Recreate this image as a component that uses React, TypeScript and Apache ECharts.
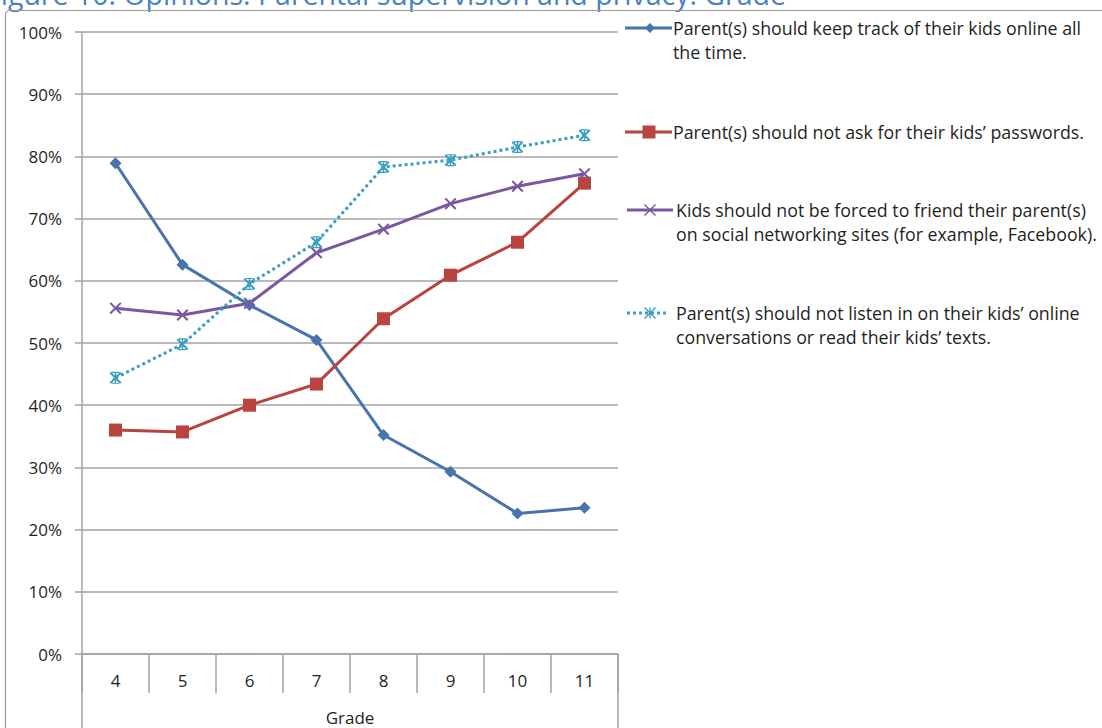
import React, { useEffect, useRef } from "react";
import * as echarts from "echarts";

const grades = ["4", "5", "6", "7", "8", "9", "10", "11"];
const keepTrack = [78.9, 62.6, 56.1, 50.5, 35.2, 29.3, 22.6, 23.5];
const noPasswords = [36.0, 35.7, 40.0, 43.4, 53.9, 60.9, 66.2, 75.7];
const noForcedFriend = [55.6, 54.5, 56.4, 64.5, 68.3, 72.4, 75.2, 77.2];
const noListening = [44.4, 49.8, 59.5, 66.2, 78.3, 79.4, 81.5, 83.4];
const yTicks = [0, 10, 20, 30, 40, 50, 60, 70, 80, 90, 100];

const seriesNames = [
  "Parent(s) should keep track of their kids online all\nthe time.",
  "Parent(s) should not ask for their kids\u2019 passwords.",
  "Kids should not be forced to friend their parent(s)\non social networking sites (for example, Facebook).",
  "Parent(s) should not listen in on their kids\u2019 online\nconversations or read their kids\u2019 texts.",
];

const BLUE = "#4674ad";
const RED = "#b8433f";
const PURPLE = "#7a58a1";
const CYAN = "#3a9fbf";
const GRID = "#a3a3a3";
const TEXT = "#1f1f1f";
const FONT = "'Open Sans', sans-serif";
const FS_AXIS = 17;
const FS_LEGEND = 17.8;

const CROSS = "path://M0,1.2L1.2,0L10,8.8L8.8,10Z M8.8,0L10,1.2L1.2,10L0,8.8Z";
const STAR =
  "path://M0,1.2L1.2,0L10,8.8L8.8,10Z M8.8,0L10,1.2L1.2,10L0,8.8Z M4.4,0L5.6,0L5.6,10L4.4,10Z M2,0L8,0L8,1L2,1Z M2,9L8,9L8,10L2,10Z";

function legendItem(
  y: number,
  x1: number,
  x2: number,
  textX: number,
  color: string,
  text: string,
  marker: any[],
  dashed: boolean
) {
  return [
    {
      type: "line",
      shape: { x1, y1: y, x2, y2: y },
      style: {
        stroke: color,
        lineWidth: 3,
        lineDash: dashed ? [3, 3] : null,
      },
    },
    ...marker,
    {
      type: "text",
      x: textX,
      y: y - 12.5,
      style: {
        text,
        fill: TEXT,
        font: `${FS_LEGEND}px ${FONT}`,
        lineHeight: 24.5,
        verticalAlign: "top",
      },
    },
  ];
}

function crossMarker(cx: number, cy: number, color: string, star: boolean) {
  const s = 5.5;
  const st = { stroke: color, lineWidth: 1.4 };
  const lines: any[] = [
    { type: "line", shape: { x1: cx - s, y1: cy - s, x2: cx + s, y2: cy + s }, style: st },
    { type: "line", shape: { x1: cx - s, y1: cy + s, x2: cx + s, y2: cy - s }, style: st },
  ];
  if (star) {
    lines.push({ type: "line", shape: { x1: cx, y1: cy - s, x2: cx, y2: cy + s }, style: st });
  }
  return lines;
}

export default function App() {
  const ref = useRef<HTMLDivElement>(null);

  useEffect(() => {
    if (!ref.current) return;
    const chart = echarts.init(ref.current, undefined, { renderer: "svg" });

    const lineSeries = (name: string, data: number[], color: string, symbol: string, size: number, dashed: boolean) => ({
      name,
      type: "line",
      data,
      symbol,
      symbolSize: size,
      lineStyle: { color, width: 3, type: dashed ? [3, 3] : "solid" },
      itemStyle: { color },
      z: 3,
    });

    chart.setOption({
      animation: false,
      backgroundColor: "#ffffff",
      textStyle: { fontFamily: FONT },
      grid: { left: 82, right: 484, top: 32, bottom: 74, outerBoundsMode: "none", containLabel: false },
      xAxis: {
        type: "category",
        data: grades,
        boundaryGap: true,
        name: "Grade",
        nameLocation: "middle",
        nameGap: 55,
        nameTextStyle: { color: TEXT, fontSize: FS_AXIS, fontFamily: FONT },
        axisLine: { show: true, lineStyle: { color: GRID, width: 1.5 } },
        axisTick: { show: true, length: 39, interval: 0, lineStyle: { color: GRID, width: 1.5 } },
        axisLabel: { color: TEXT, fontSize: FS_AXIS, margin: 18, fontFamily: FONT },
      },
      yAxis: {
        type: "value",
        min: yTicks[0],
        max: yTicks[yTicks.length - 1],
        interval: 10,
        axisLine: { show: true, lineStyle: { color: GRID, width: 1.5 } },
        axisTick: { show: true, length: 7, lineStyle: { color: GRID, width: 1.5 } },
        axisLabel: { color: TEXT, fontSize: FS_AXIS, margin: 20, formatter: "{value}%", fontFamily: FONT },
        splitLine: { show: true, lineStyle: { color: GRID, width: 1.5 } },
      },
      series: [
        lineSeries(seriesNames[0], keepTrack, BLUE, "diamond", 12, false),
        lineSeries(seriesNames[1], noPasswords, RED, "rect", 13, false),
        lineSeries(seriesNames[2], noForcedFriend, PURPLE, CROSS, 12, false),
        lineSeries(seriesNames[3], noListening, CYAN, STAR, 12, true),
      ],
      graphic: [
        {
          type: "text",
          x: -14,
          y: -6,
          style: {
            text: "Figure 10: Opinions: Parental supervision and privacy: Grade",
            fill: "#4a82c3",
            font: `28.5px ${FONT}`,
            verticalAlign: "middle",
          },
        },
        {
          type: "rect",
          shape: { x: 5.5, y: 10.5, width: 1200, height: 900, r: 4 },
          style: { fill: "none", stroke: "#9a9a9a", lineWidth: 1.2 },
          silent: true,
        },
        {
          type: "line",
          shape: { x1: 82, y1: 654, x2: 82, y2: 728 },
          style: { stroke: GRID, lineWidth: 1.5 },
        },
        {
          type: "line",
          shape: { x1: 618, y1: 654, x2: 618, y2: 728 },
          style: { stroke: GRID, lineWidth: 1.5 },
        },
        ...legendItem(28, 625, 672, 673, BLUE, seriesNames[0], [
          { type: "polygon", shape: { points: [[650, 23], [655, 28], [650, 33], [645, 28]] }, style: { fill: BLUE } },
        ], false),
        ...legendItem(132, 625, 672, 673, RED, seriesNames[1], [
          { type: "rect", shape: { x: 642.5, y: 125.5, width: 13, height: 13 }, style: { fill: RED } },
        ], false),
        ...legendItem(210, 627, 673, 676, PURPLE, seriesNames[2], crossMarker(650, 210, PURPLE, false), false),
        ...legendItem(313, 627, 669, 676, CYAN, seriesNames[3], crossMarker(650, 313, CYAN, true), true),
      ],
    });

    return () => chart.dispose();
  }, []);

  return <div ref={ref} style={{ width: 1102, height: 728, position: "absolute", left: 0, top: 0 }} />;
}
